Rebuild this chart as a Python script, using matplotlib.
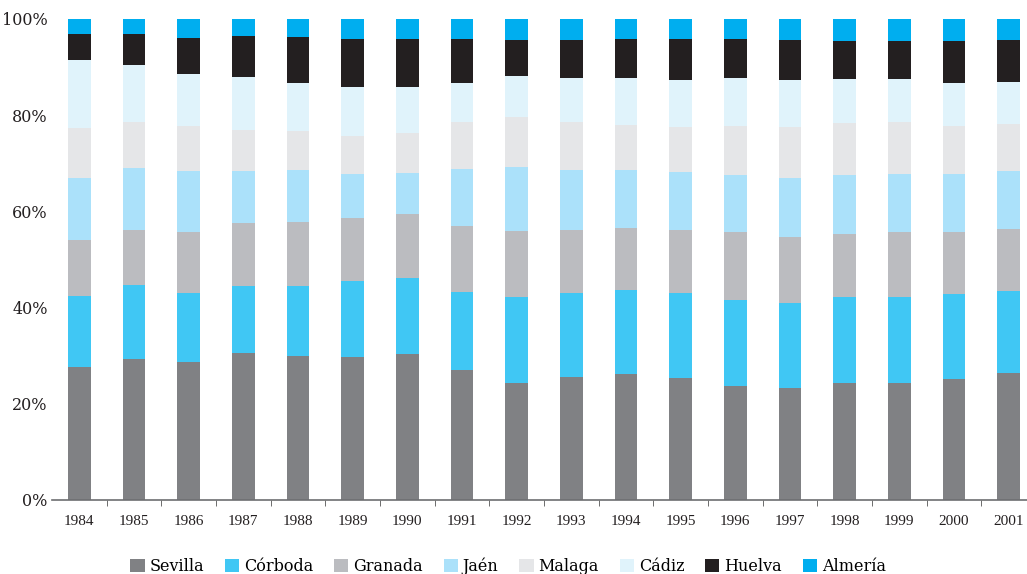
import matplotlib
matplotlib.use("Agg")
import matplotlib.pyplot as plt
import numpy as np

years = [str(y) for y in range(1984, 2002)]
series_names = ["Sevilla", "Córboda", "Granada", "Jaén", "Malaga", "Cádiz", "Huelva", "Almería"]
colors = ["#808184", "#40C7F4", "#BBBCC0", "#ABE1FA", "#E5E6E8", "#E0F3FB", "#231F20", "#00AEEF"]

# cumulative tops (%)
sevilla_top = [27.7, 29.4, 28.6, 30.6, 29.9, 29.7, 30.4, 27.0, 24.3, 25.6, 26.2, 25.4, 23.7, 23.3, 24.3, 24.3, 25.2, 26.4]
cordoba_top = [42.5, 44.6, 43.1, 44.5, 44.5, 45.5, 46.2, 43.2, 42.2, 43.0, 43.7, 43.0, 41.6, 41.0, 42.2, 42.2, 42.8, 43.5]
granada_top = [54.1, 56.2, 55.8, 57.6, 57.8, 58.6, 59.5, 57.0, 55.9, 56.1, 56.5, 56.1, 55.7, 54.7, 55.3, 55.7, 55.7, 56.3]
jaen_top    = [67.0, 69.0, 68.5, 68.4, 68.6, 67.8, 68.0, 68.8, 69.2, 68.6, 68.6, 68.2, 67.6, 66.9, 67.6, 67.8, 67.8, 68.4]
malaga_top  = [77.3, 78.6, 77.8, 76.9, 76.7, 75.7, 76.3, 78.6, 79.6, 78.6, 78.0, 77.5, 77.8, 77.5, 78.4, 78.6, 77.8, 78.2]
cadiz_top   = [91.4, 90.4, 88.6, 87.9, 86.7, 85.9, 85.9, 86.7, 88.2, 87.7, 87.7, 87.3, 87.7, 87.3, 87.5, 87.5, 86.7, 86.9]
huelva_top  = [96.9, 96.9, 96.1, 96.5, 96.3, 95.8, 95.8, 95.8, 95.6, 95.6, 95.8, 95.8, 95.8, 95.6, 95.4, 95.4, 95.4, 95.6]
almeria_top = [100.0] * 18

tops = [sevilla_top, cordoba_top, granada_top, jaen_top, malaga_top, cadiz_top, huelva_top, almeria_top]

plt.rcParams['font.family'] = ['DejaVu Serif']

fig = plt.figure(figsize=(10.27, 5.74), dpi=100)
ax = fig.add_axes([52/1027, 1-500/574, (1036-52)/1027, (500-19)/574])

x = np.arange(len(years))
bottom = np.zeros(len(years))
handles = []
for name, col, top in zip(series_names, colors, tops):
    top = np.array(top)
    h = ax.bar(x, top - bottom, bottom=bottom, width=0.42, color=col, label=name, linewidth=0)
    handles.append(h)
    bottom = top

ax.set_xlim(-0.5, 17.5)
ax.set_ylim(0, 100)
ax.set_yticks([0, 20, 40, 60, 80, 100])
ax.set_yticklabels(["0%", "20%", "40%", "60%", "80%", "100%"], fontsize=11.5, color="#231F20")
ax.tick_params(axis='y', length=0, pad=3)
ax.set_xticks(x)
ax.set_xticklabels(years, fontsize=11, color="#231F20", fontfamily="Liberation Serif")
ax.tick_params(axis='x', length=0, pad=11)
ax.set_xticks(np.arange(0.5, 17.5, 1), minor=True)
ax.tick_params(axis='x', which='minor', length=4, direction='out', color="#555555")

for s in ["top", "right", "left"]:
    ax.spines[s].set_visible(False)
ax.spines["bottom"].set_color("#6d6e71")
ax.spines["bottom"].set_linewidth(1.2)

fig.legend(handles=handles, labels=series_names, loc="center", bbox_to_anchor=(508/1027, 1-566/574),
           ncol=8, frameon=False, fontsize=11.5, handlelength=0.9, handleheight=0.9,
           handletextpad=0.3, columnspacing=1.3, borderaxespad=0)

fig.savefig("out.png", dpi=100)
